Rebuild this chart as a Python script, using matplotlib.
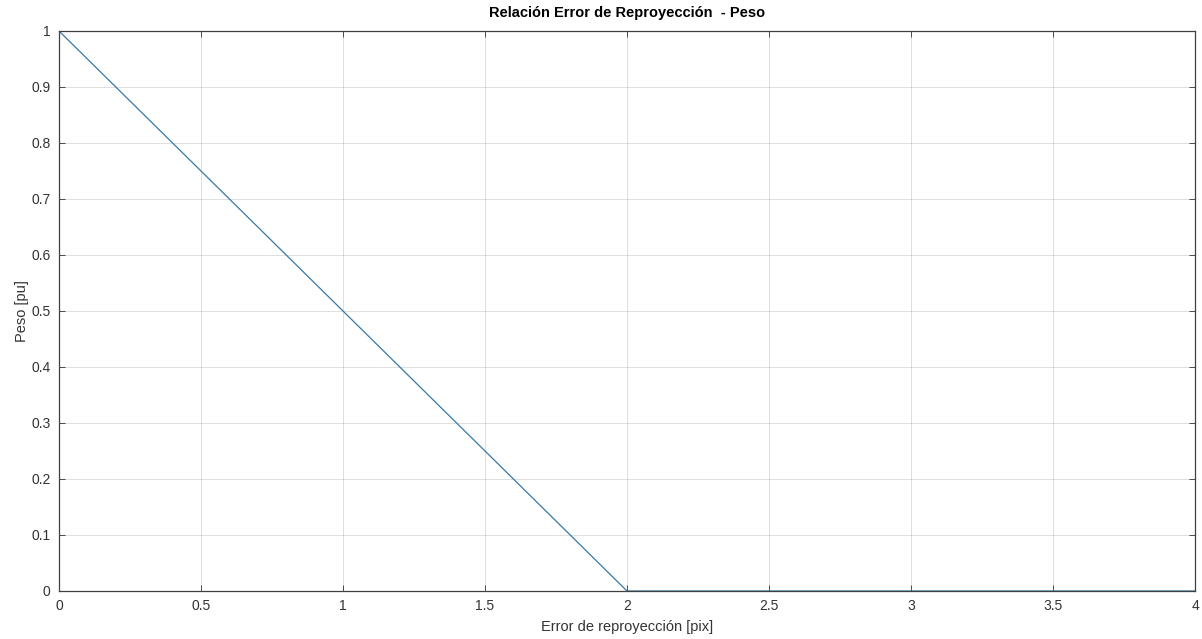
import matplotlib
matplotlib.use("Agg")
import matplotlib.pyplot as plt

# Weight as a function of reprojection error
error_px = [0.0, 2.0, 4.0]
weight_pu = [1.0, 0.0, 0.0]

x_ticks = [0, 0.5, 1, 1.5, 2, 2.5, 3, 3.5, 4]
y_ticks = [0, 0.1, 0.2, 0.3, 0.4, 0.5, 0.6, 0.7, 0.8, 0.9, 1]

plt.rcParams['font.family'] = ['Liberation Sans', 'DejaVu Sans']

fig = plt.figure(figsize=(12.02, 6.39), dpi=100)
ax = fig.add_axes([59 / 1202, 48 / 639, 1136 / 1202, 560 / 639])

ax.plot(error_px, weight_pu, color=(0.22, 0.47, 0.66), linewidth=0.9)

ax.set_xlim(0, 4)
ax.set_ylim(0, 1)
ax.set_xticks(x_ticks)
ax.set_yticks(y_ticks)
ax.set_xticklabels([f"{t:g}" for t in x_ticks])
ax.set_yticklabels([f"{t:g}" for t in y_ticks])

axis_gray = (0.2, 0.2, 0.2)
ax.grid(True, color=(0.15, 0.15, 0.15), alpha=0.15, linewidth=0.7)
ax.set_axisbelow(True)
ax.tick_params(direction='in', length=4, width=0.6, colors=axis_gray,
               labelsize=10, top=True, right=True, pad=6)
for s in ax.spines.values():
    s.set_color((0.25, 0.25, 0.25))
    s.set_linewidth(0.9)

ax.set_xlabel("Error de reproyección [pix]", fontsize=10.5, color=axis_gray, labelpad=5)
ax.set_ylabel("Peso [pu]", fontsize=10.5, color=axis_gray, labelpad=2)
ax.set_title("Relación Error de Reproyección  - Peso", fontsize=10.5,
             fontweight='bold', color='black', pad=10)

fig.savefig("out.png", dpi=100, facecolor='white')
